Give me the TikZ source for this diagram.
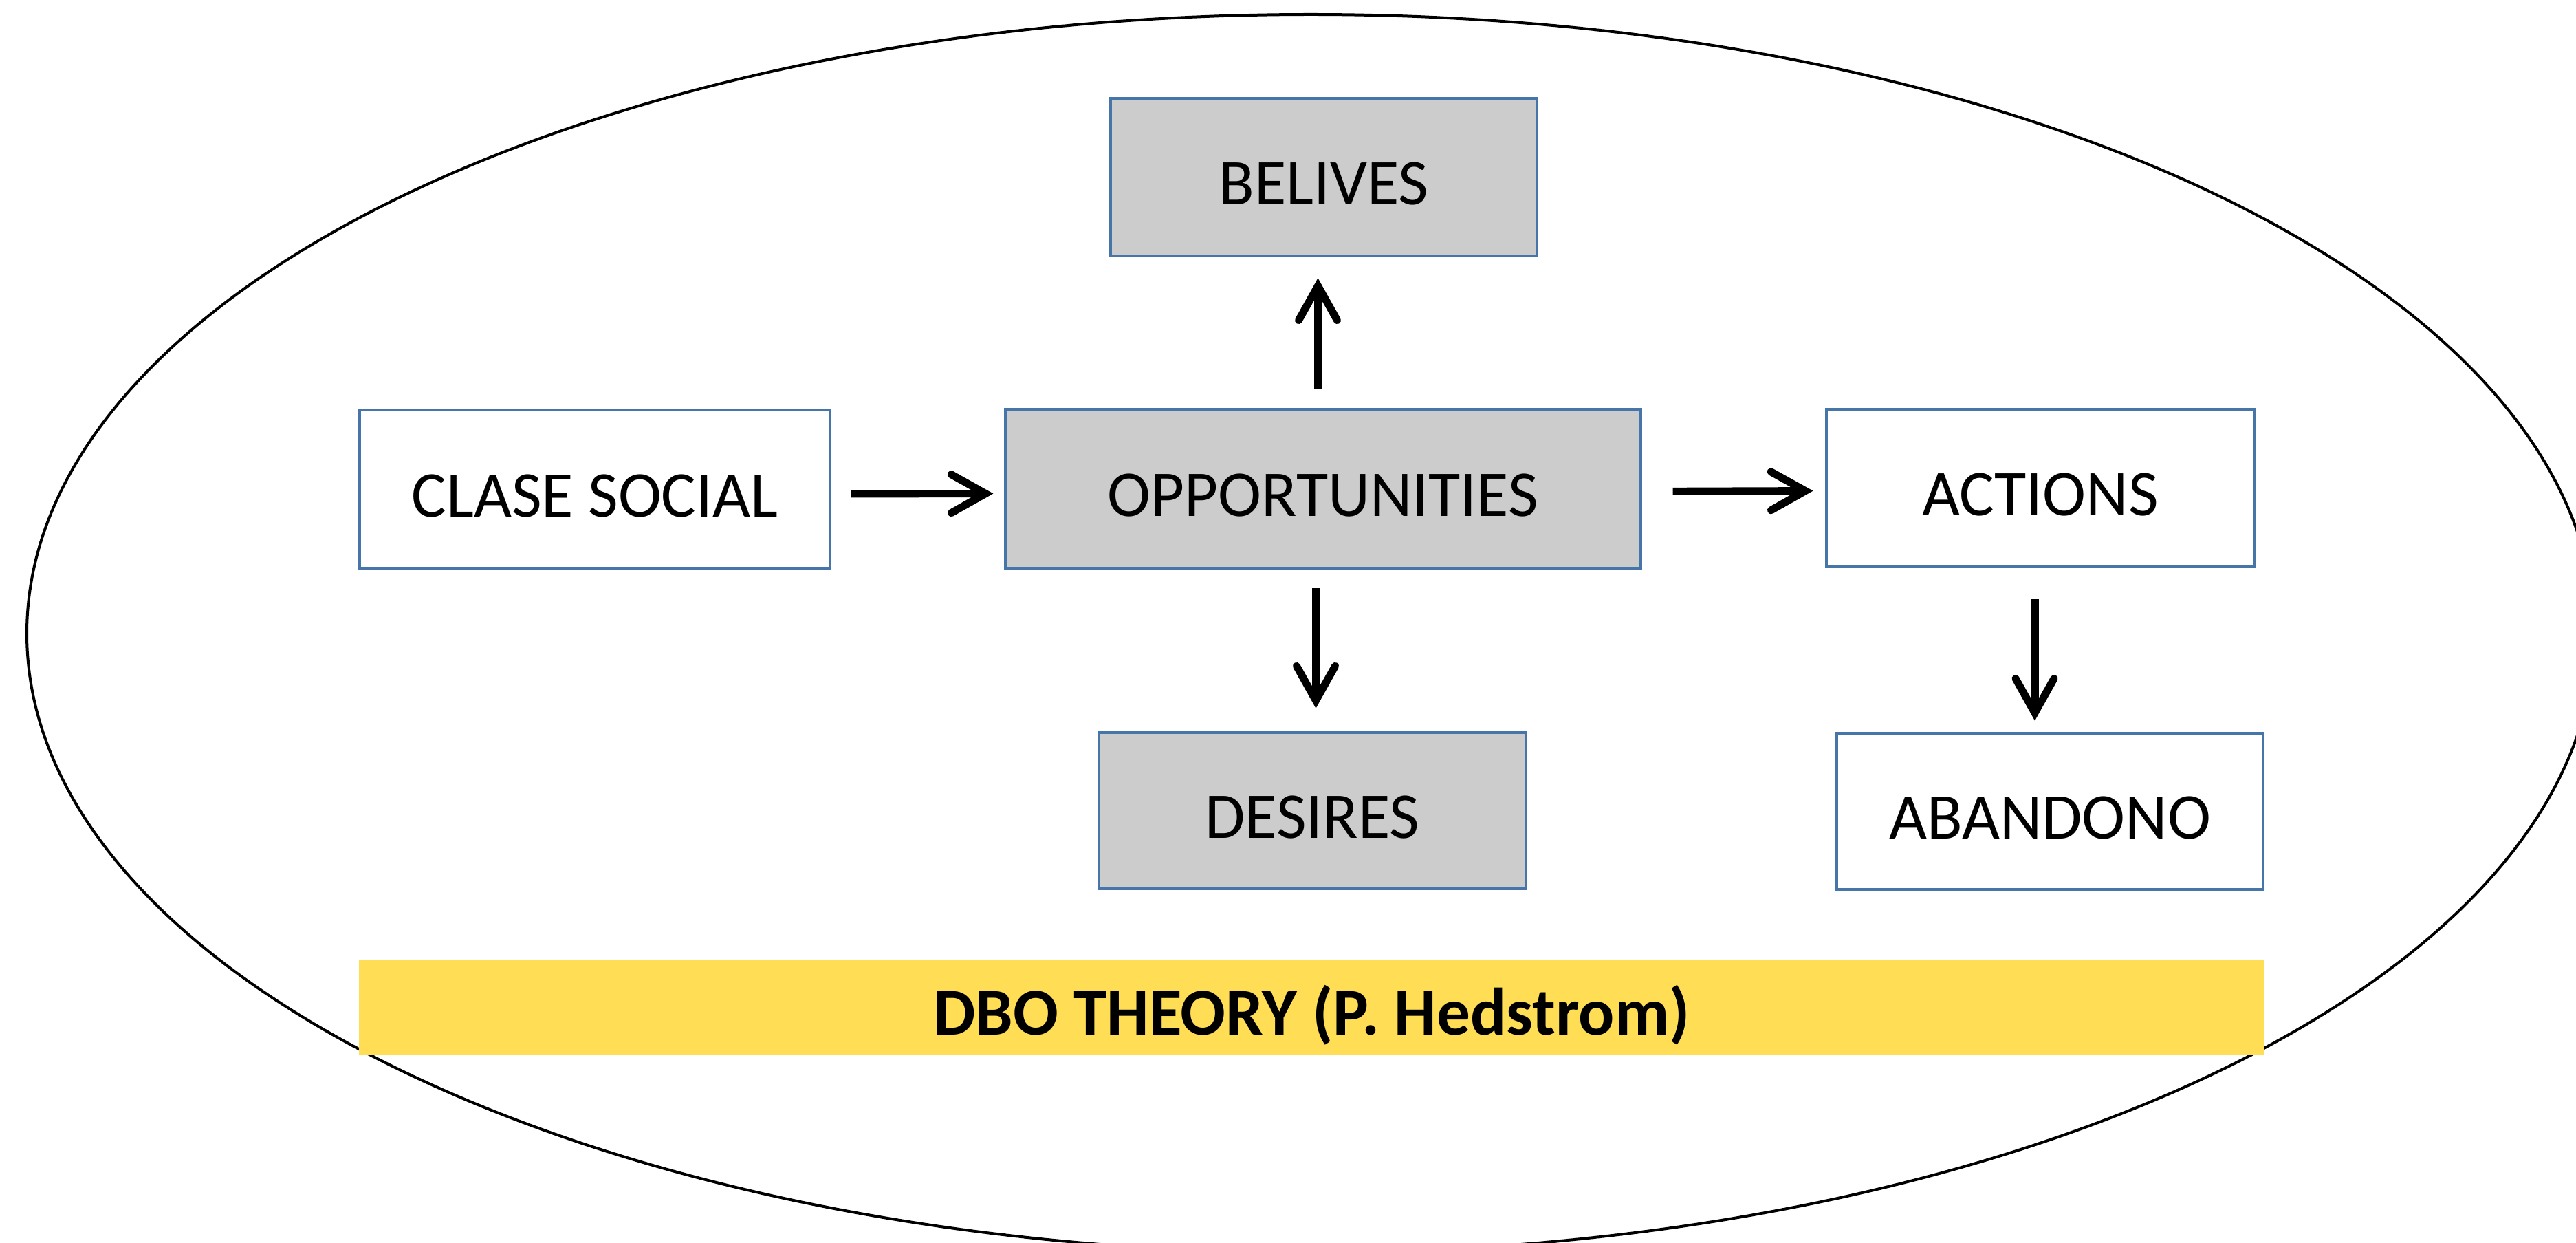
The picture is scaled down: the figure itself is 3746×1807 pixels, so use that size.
\documentclass[tikz,border=0pt]{standalone}
\usepackage{fontspec}
\setmainfont{Carlito}
\usetikzlibrary{arrows.meta}
\definecolor{boxblue}{RGB}{70,117,170}
\definecolor{boxgray}{RGB}{204,204,204}
\definecolor{bandyellow}{RGB}{255,222,85}
\begin{document}
\begin{tikzpicture}[x=0.01cm,y=-0.01cm,
  box/.style={draw=boxblue, line width=0.045cm, rectangle, inner sep=0pt,
    font=\fontsize{27}{32}\selectfont, text height=0.8cm, text depth=0pt},
  graybox/.style={box, fill=boxgray},
  whitebox/.style={box, fill=white},
  conn/.style={line width=0.11cm, -{Straight Barb[length=0.5cm, width=0.56cm, line cap=round]}},
]
\useasboundingbox (0,0) rectangle (3746,1807);
\clip (0,0) rectangle (3746,1807);
\fill[white] (0,0) rectangle (3746,1807);

% surrounding ellipse
\draw[line width=0.04cm] (1906,921) ellipse [x radius=1867, y radius=900];

% boxes
\node[whitebox, minimum width=6.84cm, minimum height=2.30cm] (cls) at (865,711) {CLASE SOCIAL};
\node[graybox, minimum width=9.23cm, minimum height=2.31cm] (opp) at (1923.5,710.5) {OPPORTUNITIES};
\node[graybox, minimum width=6.20cm, minimum height=2.29cm] (bel) at (1925,257.5) {BELIVES};
\node[graybox, minimum width=6.21cm, minimum height=2.27cm] (des) at (1908.5,1178.5) {DESIRES};
\node[whitebox, minimum width=6.22cm, minimum height=2.29cm] (act) at (2967,709.5) {ACTIONS};
\node[whitebox, minimum width=6.20cm, minimum height=2.27cm] (aba) at (2981,1179.5) {ABANDONO};

% title band
\node[fill=bandyellow, inner sep=0pt, minimum width=27.69cm, minimum height=1.37cm,
  font=\fontsize{27.7}{32}\selectfont\bfseries, text height=0.8cm, text depth=0pt]
  (band) at (1907.5,1464.5) {DBO THEORY (P. Hedstrom)};

% connectors
\draw[conn, shorten <=0.28cm, shorten >=0.15cm] ([yshift=-0.07cm]cls.east) -- ([yshift=-0.07cm]opp.west);
\draw[conn, shorten <=0.45cm, shorten >=0.17cm] ([yshift=-0.04cm]opp.east) -- ([yshift=-0.04cm]act.west);
\draw[conn, shorten <=0.28cm, shorten >=0.30cm] ([xshift=-0.07cm]opp.north) -- ([xshift=-0.07cm]opp.north |- bel.south);
\draw[conn, shorten <=0.27cm, shorten >=0.33cm] ([xshift=-0.10cm]opp.south) -- ([xshift=-0.10cm]opp.south |- des.north);
\draw[conn, shorten <=0.45cm, shorten >=0.16cm] ([xshift=-0.08cm]act.south) -- ([xshift=-0.08cm]act.south |- aba.north);
\end{tikzpicture}
\end{document}
